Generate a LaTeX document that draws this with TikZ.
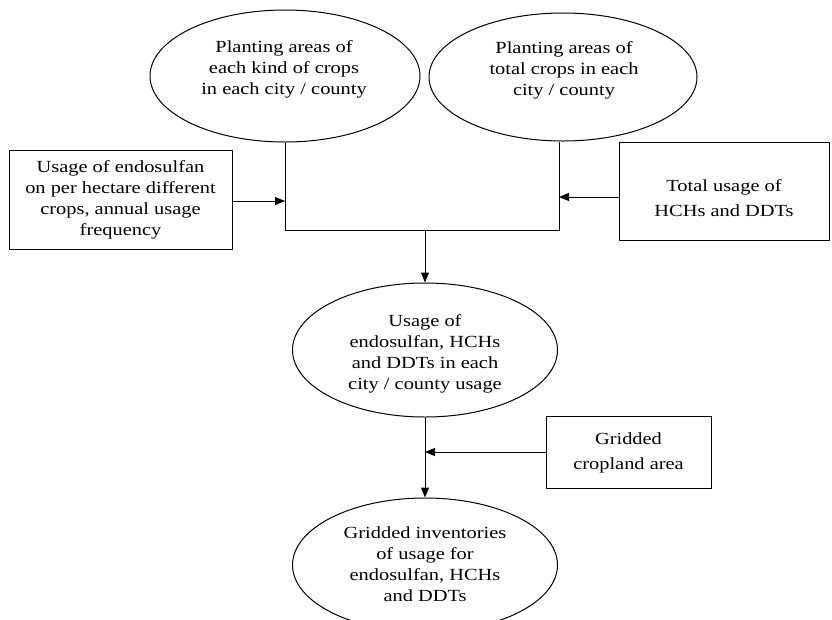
\documentclass[tikz,border=0pt]{standalone}
\usepackage{fontspec}
\usepackage{graphicx}
\setmainfont{Liberation Serif}
\newcommand\widetext[2][21]{\fontsize{17}{#1}\selectfont\scalebox{1.2}[1]{\begin{tabular}{@{}c@{}}#2\end{tabular}}}
\usetikzlibrary{shapes.geometric,arrows.meta}
\tikzset{
  every picture/.style={line width=1pt},
  oval/.style={draw, ellipse, inner sep=0pt, minimum width=270pt, minimum height=132pt},
  txt/.style={inner sep=0pt},
  boxx/.style={draw, inner sep=0pt},
  arr/.style={-{Triangle[length=10pt,width=8pt]}},
  ln/.style={-}
}
\begin{document}
\begin{tikzpicture}[x=1pt,y=-1pt]
\useasboundingbox (0,0) rectangle (832,619);
% ellipses
\node[oval] (e1) at (285,76) {};
\node[txt] (t1) at (284,69) {\widetext{Planting areas of\\each kind of crops\\in each city / county}};
\node[oval, minimum width=268pt, minimum height=128pt] (e2) at (563,77) {};
\node[txt] (t2) at (564,70) {\widetext{Planting areas of\\total crops in each\\city / county}};
\node[oval, minimum width=265pt, minimum height=134pt] (e3) at (425,350) {};
\node[txt] (t3) at (425,354) {\widetext{Usage of\\endosulfan, HCHs\\and DDTs in each\\city / county usage}};
\node[oval, minimum width=265pt, minimum height=134pt] (e4) at (425,565) {};
\node[txt] (t4) at (425,566) {\widetext{Gridded inventories\\of usage for\\endosulfan, HCHs\\and DDTs}};
% boxes
\node[boxx, minimum width=223pt, minimum height=99pt] (lb) at (120.5,199.5) {\widetext{Usage of endosulfan\\on per hectare different\\crops, annual usage\\frequency}};
\node[boxx, minimum width=210pt, minimum height=98pt] (rb) at (724,191) {};
\node[txt] (rbt) at (724,199) {\widetext[25]{Total usage of\\HCHs and DDTs}};
\node[boxx, minimum width=165pt, minimum height=72pt] (gb) at (628.5,452) {\widetext[25]{Gridded\\cropland area}};
% junction coordinates
\coordinate (j1) at (285,230);
\coordinate (j2) at (559,230);
\coordinate (jm) at (425,230);
% connectors
\draw[ln] (e1.south) -- (j1) -- (j2) -- (j2 |- e2.south);
\draw[arr] ([yshift=-1.5pt]lb.east) -- ([yshift=-1.5pt]lb.east -| j1);
\draw[arr] ([yshift=-6pt]rb.west) -- ([yshift=-6pt]rb.west -| j2);
\draw[arr] (jm) -- (e3.north);
\draw[arr] (e3.south) -- (e4.north);
\draw[arr] (gb.west) -- (gb.west -| e3.south);
\end{tikzpicture}
\end{document}
